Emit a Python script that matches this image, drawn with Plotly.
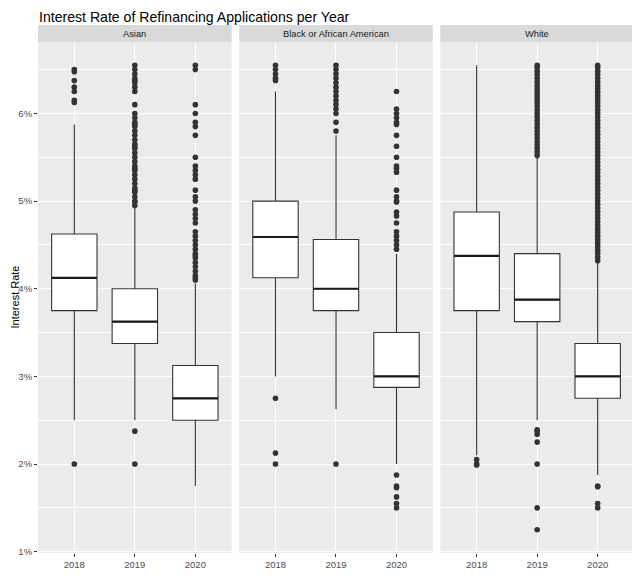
import plotly.graph_objects as go

# ---------------- data ----------------
groups = ["Asian", "Black or African American", "White"]
years = ["2018", "2019", "2020"]

# per group: values for 2018, 2019, 2020 (interest rate, %)
q1 = [[3.75, 3.375, 2.5], [4.125, 3.75, 2.875], [3.75, 3.625, 2.75]]
median = [[4.125, 3.625, 2.75], [4.59, 4.0, 3.0], [4.375, 3.875, 3.0]]
q3 = [[4.625, 4.0, 3.125], [5.0, 4.5625, 3.5], [4.875, 4.4, 3.375]]
lower_whisker = [[2.5, 2.5, 1.75], [3.0, 2.625, 2.0], [2.1, 2.5, 1.875]]
upper_whisker = [[5.875, 4.93, 4.06], [6.25, 5.75, 4.4], [6.55, 5.5, 4.3]]

out_asian_2018 = [6.5, 6.475, 6.375, 6.3, 6.25, 6.15, 6.125, 2.0]
out_asian_2019 = [6.55, 6.5, 6.45, 6.4, 6.375, 6.35, 6.3, 6.25, 6.1, 6.0, 5.95,
                  5.9, 5.875, 5.85, 5.8, 5.75, 5.7, 5.65, 5.625, 5.6, 5.55, 5.5,
                  5.45, 5.4, 5.375, 5.35, 5.3, 5.25, 5.2, 5.15, 5.125, 5.1, 5.05,
                  5.0, 4.99, 4.95, 2.375, 2.0]
out_asian_2020 = [6.55, 6.5, 6.1, 6.0, 5.9, 5.85, 5.75, 5.5, 5.4, 5.35, 5.3, 5.25,
                  5.125, 5.05, 5.0, 4.9, 4.85, 4.8, 4.75, 4.65, 4.6, 4.55, 4.5,
                  4.45, 4.4, 4.375, 4.35, 4.3, 4.25, 4.2, 4.15, 4.125, 4.1]
out_black_2018 = [6.55, 6.5, 6.45, 6.4, 6.375, 2.75, 2.125, 2.0]
out_black_2019 = [6.55, 6.5, 6.45, 6.4, 6.35, 6.3, 6.25, 6.2, 6.15, 6.1, 6.05,
                  6.0, 5.9, 5.8, 2.0]
out_black_2020 = [6.25, 6.05, 6.0, 5.95, 5.9, 5.875, 5.75, 5.625, 5.5, 5.4, 5.375,
                  5.33, 5.125, 5.05, 5.0, 4.99, 4.875, 4.83, 4.75, 4.65, 4.6,
                  4.55, 4.5, 4.45, 1.875, 1.75, 1.73, 1.625, 1.55, 1.5]
out_white_2018 = [2.05, 2.0, 1.99]
out_white_2019 = [5.52, 5.56, 5.6, 5.64, 5.68, 5.72, 5.76, 5.8, 5.84, 5.88, 5.92,
                  5.96, 6.0, 6.04, 6.08, 6.12, 6.16, 6.2, 6.24, 6.28, 6.32, 6.36,
                  6.4, 6.44, 6.48, 6.52, 6.55, 2.39, 2.375, 2.34, 2.25, 2.0, 1.5,
                  1.25]
out_white_2020 = [4.32, 4.36, 4.40, 4.44, 4.48, 4.52, 4.56, 4.60, 4.64, 4.68, 4.72,
                  4.76, 4.80, 4.84, 4.88, 4.92, 4.96, 5.00, 5.04, 5.08, 5.12, 5.16,
                  5.20, 5.24, 5.28, 5.32, 5.36, 5.40, 5.44, 5.48, 5.52, 5.56, 5.60,
                  5.64, 5.68, 5.72, 5.76, 5.80, 5.84, 5.88, 5.92, 5.96, 6.00, 6.04,
                  6.08, 6.12, 6.16, 6.20, 6.24, 6.28, 6.32, 6.36, 6.40, 6.44, 6.48,
                  6.52, 6.55, 1.75, 1.74, 1.55, 1.5]

outliers = [
    [out_asian_2018, out_asian_2019, out_asian_2020],
    [out_black_2018, out_black_2019, out_black_2020],
    [out_white_2018, out_white_2019, out_white_2020],
]

# ---------------- styling ----------------
# the page body adds an 8px offset, so the figure is drawn 8px smaller
OFF = 8
W, H = 640 - OFF, 588 - OFF
ML, MR, MT, MB = 38 - OFF, 6, 25 - OFF, 35
BOX_W = 0.75
LINE = "#333333"
PANEL_BG = "#EBEBEB"
STRIP_BG = "#D9D9D9"
FONT = "Liberation Sans, Arial, sans-serif"

plot_w = W - ML - MR
plot_h = H - MT - MB
gap = 7.5 / plot_w
pw = (1 - 2 * gap) / 3
domains = [[i * (pw + gap), i * (pw + gap) + pw] for i in range(3)]
strip_h = 17 / plot_h
y_top = 1 - strip_h

all_vals = []
for g in range(3):
    for k in range(3):
        all_vals += outliers[g][k] + [lower_whisker[g][k], upper_whisker[g][k]]
vmin, vmax = min(all_vals), max(all_vals)
span = vmax - vmin
y_range = [vmin - 0.05 * span, vmax + 0.05 * span]

fig = go.Figure()

for g in range(3):
    xa = "x" if g == 0 else f"x{g+1}"
    ya = "y" if g == 0 else f"y{g+1}"
    for k in range(3):
        fig.add_trace(go.Box(
            x=[k], q1=[q1[g][k]], median=[median[g][k]], q3=[q3[g][k]],
            lowerfence=[lower_whisker[g][k]], upperfence=[upper_whisker[g][k]],
            boxpoints=False, width=BOX_W, whiskerwidth=0,
            fillcolor="white", line=dict(color=LINE, width=1.1),
            xaxis=xa, yaxis=ya, showlegend=False, hoverinfo="skip",
        ))
        # thicker median (ggplot fatten)
        fig.add_trace(go.Scatter(
            x=[k - BOX_W / 2, k + BOX_W / 2], y=[median[g][k], median[g][k]],
            mode="lines", line=dict(color="#1A1A1A", width=2.2),
            xaxis=xa, yaxis=ya, showlegend=False, hoverinfo="skip",
        ))
        fig.add_trace(go.Scatter(
            x=[k] * len(outliers[g][k]), y=outliers[g][k], mode="markers",
            marker=dict(color=LINE, size=5.6, line=dict(width=0)),
            xaxis=xa, yaxis=ya, showlegend=False, hoverinfo="skip",
        ))

layout = dict(
    width=W, height=H,
    margin=dict(l=ML, r=MR, t=MT, b=MB),
    paper_bgcolor="white", plot_bgcolor=PANEL_BG,
    font=dict(family=FONT),
    hovermode=False,
)

for g in range(3):
    sx = "" if g == 0 else str(g + 1)
    layout[f"xaxis{sx}"] = dict(
        domain=domains[g], range=[-0.6, 2.6], anchor=f"y{sx}",
        tickmode="array", tickvals=[0, 1, 2], ticktext=years,
        showgrid=True, gridcolor="white", gridwidth=1.1,
        ticks="outside", ticklen=3, tickcolor=LINE, tickwidth=1,
        tickfont=dict(size=9.5, color="#4D4D4D"),
        zeroline=False, showline=False, fixedrange=True,
    )
    ydict = dict(
        domain=[0, y_top], range=y_range, anchor=f"x{sx}",
        tickmode="linear", tick0=1, dtick=1, ticksuffix="%",
        showgrid=True, gridcolor="white", gridwidth=1.1,
        minor=dict(showgrid=True, gridcolor="white", gridwidth=0.5,
                   tick0=0.5, dtick=0.5),
        zeroline=False, showline=False, fixedrange=True,
    )
    if g == 0:
        ydict.update(ticks="outside", ticklen=3, tickcolor=LINE, tickwidth=1,
                     tickfont=dict(size=9.5, color="#4D4D4D"), automargin=False)
    else:
        ydict.update(showticklabels=False, ticks="", matches="y")
    layout[f"yaxis{sx}"] = ydict

shapes = []
annotations = []
for g in range(3):
    shapes.append(dict(type="rect", xref="paper", yref="paper",
                       x0=domains[g][0], x1=domains[g][1], y0=y_top, y1=1,
                       fillcolor=STRIP_BG, line=dict(width=0), layer="below"))
    annotations.append(dict(text=groups[g], xref="paper", yref="paper",
                            x=(domains[g][0] + domains[g][1]) / 2,
                            y=(y_top + 1) / 2, showarrow=False,
                            xanchor="center", yanchor="middle",
                            font=dict(size=9.3, color="#1A1A1A", family=FONT)))
# chart title, kept just inside the top edge
annotations.append(dict(text="Interest Rate of Refinancing Applications per Year",
                        xref="paper", yref="paper", x=0, xanchor="left",
                        y=1 + MT / plot_h, yanchor="top", showarrow=False,
                        borderpad=0,
                        font=dict(size=14.1, color="black", family=FONT)))
# y axis title, kept just inside the left edge
annotations.append(dict(text="Interest Rate", xref="paper", yref="paper",
                        x=-(ML - 6) / plot_w, y=y_top / 2, textangle=-90,
                        showarrow=False, xanchor="center", yanchor="middle",
                        borderpad=0,
                        font=dict(size=11, color="black", family=FONT)))
layout["shapes"] = shapes
layout["annotations"] = annotations

fig.update_layout(**layout)
fig.write_html("out.html")
